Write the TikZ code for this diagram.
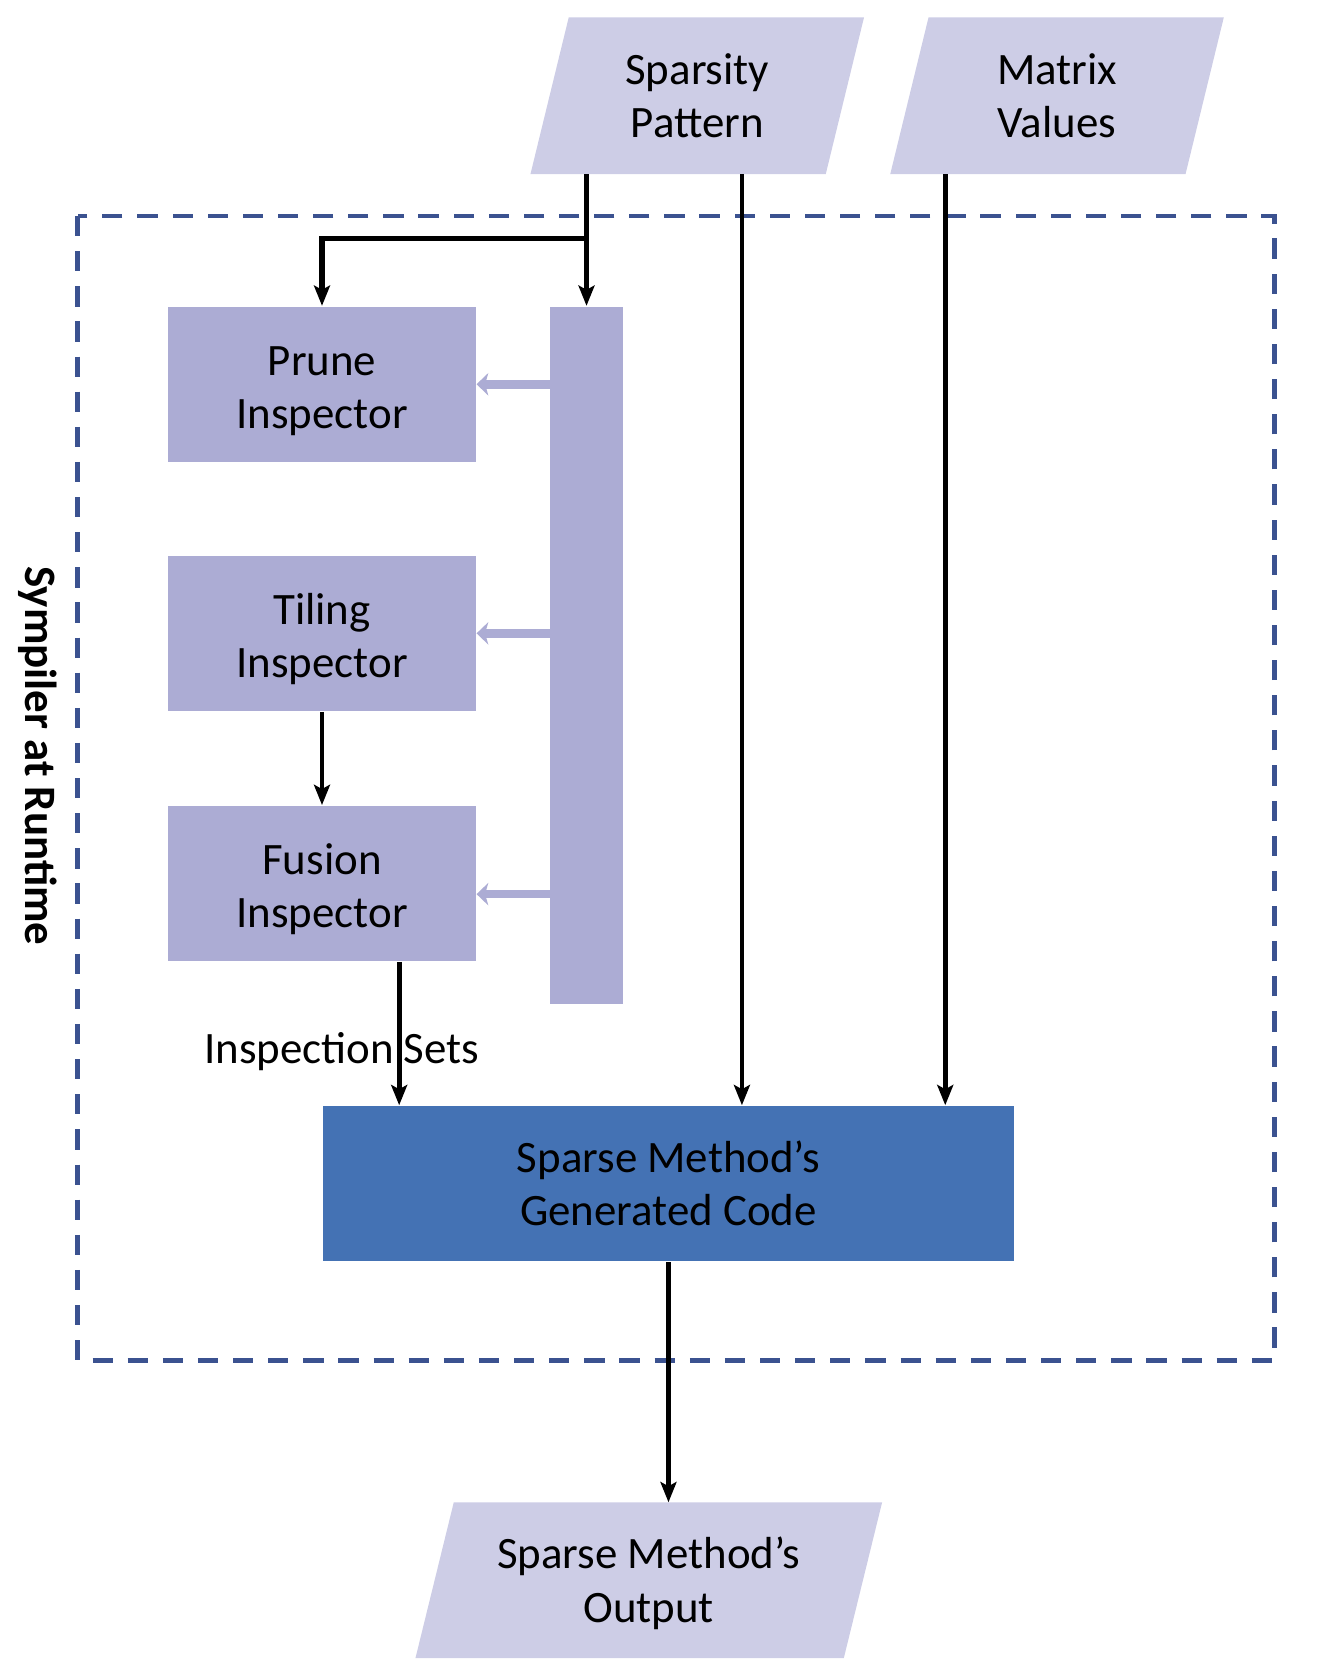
\documentclass[tikz,border=0pt]{standalone}
\usepackage{fontspec}
\setmainfont{Carlito}
\usetikzlibrary{arrows.meta,backgrounds}

\definecolor{inputfill}{HTML}{CDCDE6}
\definecolor{inspfill}{HTML}{ACACD4}
\definecolor{codefill}{HTML}{4472B4}
\definecolor{frameblue}{HTML}{3B5290}

\tikzset{
	datain/.style={rectangle,inner sep=0pt,minimum width=27.6mm,
		minimum height=14.6mm,align=center},
	inspbox/.style={rectangle,fill=inspfill,minimum width=28.9mm,
		minimum height=14.6mm,align=center,inner sep=0pt,text height=26.2pt,text depth=2.6pt},
	flow/.style={line width=0.45mm,-{Stealth[length=1.9mm,width=1.5mm,inset=0.4mm]}},
	feed/.style={inspfill,line width=0.8mm,-{Stealth[length=1.1mm,width=2.1mm,inset=0.3mm]}}
}
% slanted backdrop behind a data node
\newcommand{\slantfill}[1]{%
	\fill[inputfill] ([xshift=-1.8mm]#1.south west) -- ([xshift=-1.8mm]#1.south east)
		-- ([xshift=1.8mm]#1.north east) -- ([xshift=1.8mm]#1.north west) -- cycle;}

\begin{document}
\begin{tikzpicture}[x=0.1mm,y=-0.1mm,
		every node/.style={font=\fontsize{12pt}{14.2pt}\selectfont}]
	\useasboundingbox (0,0) rectangle (1251,1567);

	% runtime frame
	\draw[frameblue,line width=0.45mm,dash pattern=on 1.9mm off 1.4mm]
		(73,203) rectangle (1197,1278);
	\node[rotate=-90,font=\fontsize{12pt}{14.2pt}\selectfont\bfseries] (runtime) at (35,710) {Sympiler at Runtime};

	% inputs
	\node[datain] (sparsity) at (655,90) {Sparsity\\Pattern};
	\node[datain] (values) at (993,90) {Matrix\\Values};

	% inspectors
	\node[inspbox] (prune) at (302.5,361) {Prune\\Inspector};
	\node[inspbox] (tiling) at (302.5,595) {Tiling\\Inspector};
	\node[inspbox] (fusion) at (302.5,830) {Fusion\\Inspector};
	\node[rectangle,fill=inspfill,minimum width=6.8mm,minimum height=65.5mm,inner sep=0pt] (bar) at (551,615.5) {};

	% code and output
	\node[rectangle,fill=codefill,minimum width=65mm,minimum height=14.6mm,align=center] (code) at (628,1112) {Sparse Method’s\\Generated Code};
	\node[datain,minimum width=40.1mm,minimum height=14.5mm,text height=25pt,text depth=2.6pt] (output) at (609.5,1484.5) {Sparse Method’s\\Output};

	\begin{scope}[on background layer]
		\slantfill{sparsity}
		\slantfill{values}
		\slantfill{output}
	\end{scope}

	% connectors
	\coordinate (split) at (551,224);
	\draw[flow] (bar.north |- sparsity.south) -- (bar.north);
	\draw[flow,line width=0.55mm] (split) -| (prune.north);
	\draw[flow] ([xshift=4.2mm]sparsity.south) -- ([xshift=4.2mm]sparsity.south |- code.north);
	\draw[flow] ([xshift=-10.5mm]values.south) -- ([xshift=-10.5mm]values.south |- code.north);
	\draw[flow] (tiling.south) -- (fusion.north);
	\draw[flow] ([xshift=7.25mm]fusion.south) -- ([xshift=7.25mm]fusion.south |- code.north);
	\draw[flow] (code.south) -- (code.south |- output.north);

	\draw[feed] (bar.west |- prune.east) -- (prune.east);
	\draw[feed] (bar.west |- tiling.east) -- (tiling.east);
	\draw[feed] ([yshift=-1mm]bar.west |- fusion.east) -- ([yshift=-1mm]fusion.east);

	\node (sets) at (321,988) {Inspection Sets};
\end{tikzpicture}
\end{document}
